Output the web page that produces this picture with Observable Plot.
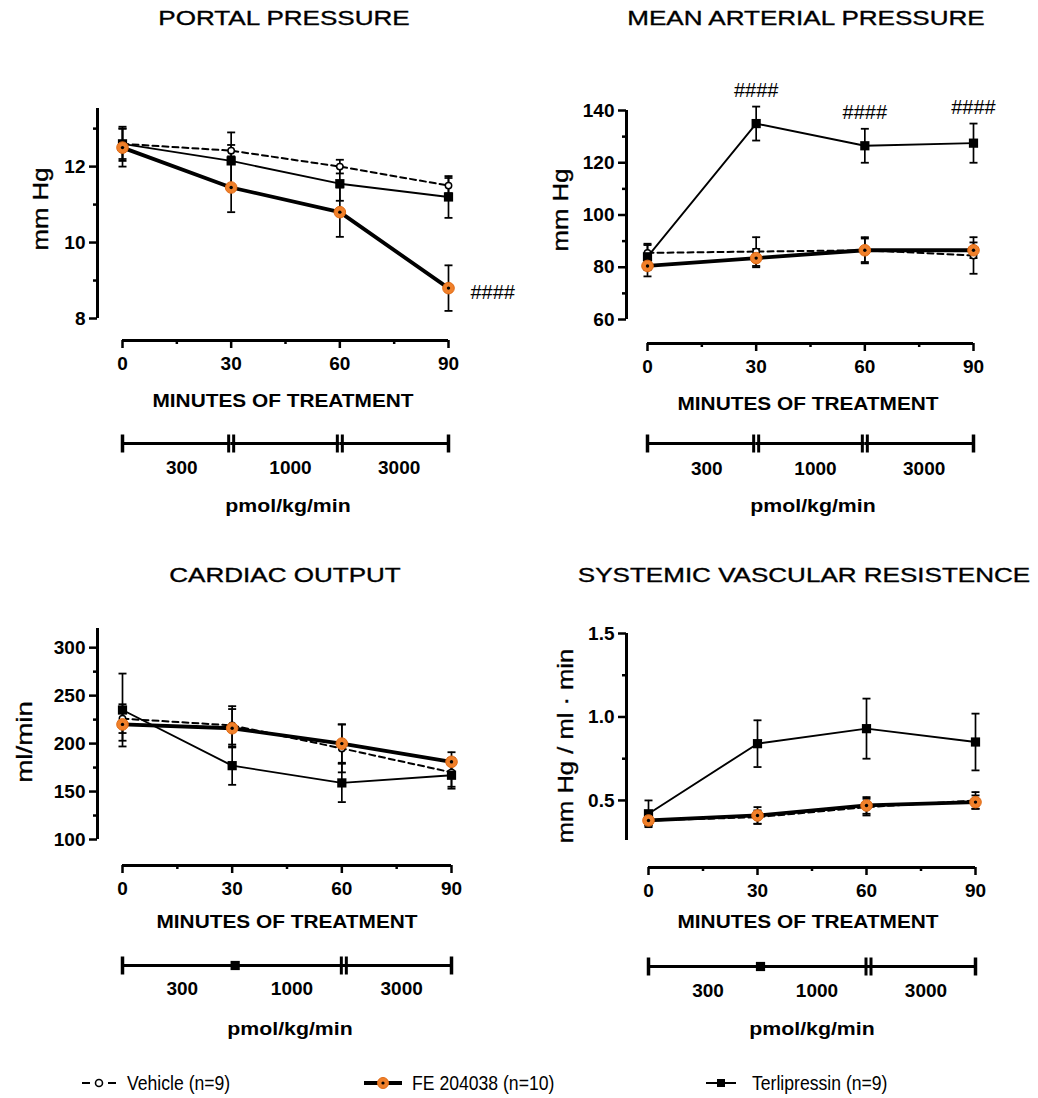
<!DOCTYPE html>
<html><head><meta charset="utf-8">
<script src="https://cdn.jsdelivr.net/npm/d3@7"></script>
<script src="https://cdn.jsdelivr.net/npm/@observablehq/plot@0.6"></script>
<style>
body{margin:0;background:#fff;}
#root{position:relative;width:1038px;height:1098px;overflow:hidden;font-family:"Liberation Sans",Arial,sans-serif;color:#000;background:#fff;}
.abs{position:absolute;white-space:nowrap;line-height:1;}
.heavy{-webkit-text-stroke:0.35px #000;}
.panel{position:absolute;}
.panel svg{overflow:visible;}
</style></head>
<body><div id="root"></div>
<script>
// ---------------- DATA ----------------
const time = [0, 30, 60, 90];

// Portal pressure (mm Hg)
const ppVehicle = [12.6, 12.42, 12.0, 11.5];
const ppVehicleErr = [0.4, 0.15, 0.18, 0.2];
const ppFE = [12.5, 11.45, 10.8, 8.8];
const ppFEErr = [0.5, 0.65, 0.65, 0.6];
const ppTerli = [12.6, 12.15, 11.55, 11.2];
const ppTerliErr = [0.45, 0.75, 0.45, 0.55];

// Mean arterial pressure (mm Hg)
const mapVehicle = [85.5, 86, 86.5, 84.5];
const mapVehicleErr = [3, 5.5, 5, 7];
const mapFE = [80.5, 83.5, 86.5, 86.5];
const mapFEErr = [4, 3.5, 4.5, 3];
const mapTerli = [84, 135, 126.5, 127.5];
const mapTerliErr = [5, 6.5, 6.5, 7.5];

// Cardiac output (ml/min)
const coVehicle = [226, 219, 195, 170];
const coVehicleErr = [15, 20, 25, 15];
const coFE = [220, 216, 200, 181];
const coFEErr = [17, 20, 20, 10];
const coTerli = [235, 177, 159, 167];
const coTerliErr = [38, 20, 20, 14];

// Systemic vascular resistance (mm Hg / ml · min)
const svrVehicle = [0.38, 0.40, 0.46, 0.50];
const svrVehicleErr = [0.03, 0.04, 0.05, 0.05];
const svrFE = [0.38, 0.41, 0.47, 0.49];
const svrFEErr = [0.03, 0.05, 0.05, 0.04];
const svrTerli = [0.42, 0.84, 0.93, 0.85];
const svrTerliErr = [0.08, 0.14, 0.18, 0.17];

// Significance marks (time points)
const ppSigTimes = [90];
const mapSigTimes = [30, 60, 90];
const sigLabel = "####";

// Dose schedule
const doseLabels = ["300", "1000", "3000"];
const doseStart = [0, 30, 60];
const doseEnd = [30, 60, 90];

// Ticks
const xTicks = [0, 30, 60, 90];
const xMinor = [15, 45, 75];
const ppTicks = [8, 10, 12], ppMinor = [9, 11, 13];
const mapTicks = [60, 80, 100, 120, 140], mapMinor = [70, 90, 110, 130];
const coTicks = [100, 150, 200, 250, 300], coMinor = [125, 175, 225, 275];
const svrTicks = [0.5, 1.0, 1.5], svrMinor = [0.75, 1.25];

const seriesNames = ["Vehicle (n=9)", "FE 204038 (n=10)", "Terlipressin (n=9)"];

// ---------------- HELPERS ----------------
const root = document.getElementById("root");
const ORANGE = "#f0802a";
const rows = (vals, errs) => time.map((t, i) => ({t, v: vals[i], lo: vals[i] - errs[i], hi: vals[i] + errs[i]}));
const capSym = {draw(ctx) { ctx.moveTo(-4, 0); ctx.lineTo(4, 0); }};
const vbarSym = {draw(ctx) { ctx.moveTo(0, -9); ctx.lineTo(0, 9); }};

function addText(txt, cx, cy, o = {}) {
  const el = document.createElement("div");
  el.className = "abs" + (o.heavy ? " heavy" : "");
  el.textContent = txt;
  el.style.fontSize = (o.size || 20.5) + "px";
  el.style.fontWeight = o.weight || "normal";
  root.appendChild(el);
  let s = o.sx || 1;
  if (o.width) s = o.width / el.offsetWidth;
  el.style.left = cx + "px";
  el.style.top = cy + "px";
  el.style.transform = `translate(-50%,-50%) rotate(${o.rotate || 0}deg) scaleX(${s})`;
  return el;
}

function panel(c) {
  const H = c.height;
  const vehicle = rows(c.vehicle, c.vehicleErr);
  const fe = rows(c.fe, c.feErr);
  const terli = rows(c.terli, c.terliErr);
  const segs = doseLabels.map((d, i) => ({dose: d, x1: doseStart[i], x2: doseEnd[i], mid: (doseStart[i] + doseEnd[i]) / 2}));
  const yLo = c.yDomain[0];
  const doseDy = c.doseY - c.pLo;
  const marks = [];
  // axis lines
  marks.push(Plot.ruleX([xTicks[0]], {y1: c.yDomain[0], y2: c.yDomain[1], dx: c.yAxisX - c.x0, stroke: "black", strokeWidth: 3}));
  marks.push(Plot.ruleY([yLo], {x1: xTicks[0], x2: xTicks[xTicks.length - 1], dy: c.xAxisY - c.pLo, stroke: "black", strokeWidth: 3}));
  marks.push(Plot.axisY({ticks: c.yTicks, tickSize: 8, tickPadding: 4, strokeWidth: 2.5, fontSize: 19, fontWeight: "bold", tickFormat: c.fmt, label: null}));
  marks.push(Plot.axisY({ticks: c.yMinor, tickSize: 4, strokeWidth: 2.5, tickFormat: () => "", label: null}));
  marks.push(Plot.axisX({ticks: xTicks, tickSize: 8, tickPadding: 8, strokeWidth: 2.5, fontSize: 19, fontWeight: "bold", label: null}));
  marks.push(Plot.axisX({ticks: xMinor, tickSize: 4, strokeWidth: 2.5, tickFormat: () => "", label: null}));

  // error bars
  for (const r of [vehicle, terli, fe]) {
    marks.push(Plot.ruleX(r, {x: "t", y1: "lo", y2: "hi", stroke: "black", strokeWidth: 1.7}));
    marks.push(Plot.dot(r, {x: "t", y: "hi", symbol: capSym, stroke: "black", strokeWidth: 1.8, fill: "none"}));
    marks.push(Plot.dot(r, {x: "t", y: "lo", symbol: capSym, stroke: "black", strokeWidth: 1.8, fill: "none"}));
  }
  // vehicle
  marks.push(Plot.line(vehicle, {x: "t", y: "v", stroke: "black", strokeWidth: 2, strokeDasharray: "6,4"}));
  marks.push(Plot.dot(vehicle, {x: "t", y: "v", r: 3.2, fill: "white", stroke: "black", strokeWidth: 1.5}));
  // terlipressin
  marks.push(Plot.line(terli, {x: "t", y: "v", stroke: "black", strokeWidth: 1.9}));
  marks.push(Plot.dot(terli, {x: "t", y: "v", symbol: "square", r: 5.2, fill: "black"}));
  // FE 204038
  marks.push(Plot.line(fe, {x: "t", y: "v", stroke: "black", strokeWidth: 3.8}));
  marks.push(Plot.dot(fe, {x: "t", y: "v", r: 5.8, fill: ORANGE, stroke: "#e06a14", strokeWidth: 1}));
  marks.push(Plot.dot(fe, {x: "t", y: "v", r: 1.7, fill: "black"}));

  // significance
  if (c.sig) marks.push(Plot.text(c.sig.rows, {x: "t", y: "y", text: () => sigLabel, fontSize: 20, fontWeight: "normal", textAnchor: c.sig.anchor, dx: c.sig.dx, dy: c.sig.dy}));

  // dose bar
  marks.push(Plot.ruleY(segs, {y: () => yLo, x1: "x1", x2: "x2", dy: doseDy, stroke: "black", strokeWidth: 3}));
  marks.push(Plot.dot([doseStart[0], doseEnd[doseEnd.length - 1]], {x: d => d, y: () => yLo, dy: doseDy, symbol: vbarSym, stroke: "black", strokeWidth: 3.5}));
  const breaks = c.doseBreaks, squares = c.doseSquares;
  for (const dx of [-2.5, 2.5]) marks.push(Plot.dot(breaks, {x: d => d, y: () => yLo, dy: doseDy, dx: dx + (c.breakDx || 0), symbol: vbarSym, stroke: "black", strokeWidth: 3}));
  if (squares.length) marks.push(Plot.dot(squares, {x: d => d, y: () => yLo, dy: doseDy, dx: 3, symbol: "square", r: 5.2, fill: "black"}));
  marks.push(Plot.text(segs, {x: "mid", y: () => yLo, dy: c.doseLabelY - c.pLo, dx: 5, text: "dose", fontSize: 19, fontWeight: "bold"}));

  const plot = Plot.plot({
    width: c.width, height: H,
    marginLeft: c.yAxisX - c.left, marginRight: 0, marginTop: 0,
    marginBottom: H - (c.xAxisY - c.top),
    x: {domain: [xTicks[0], xTicks[xTicks.length - 1]], range: [c.x0 - c.left, c.x90 - c.left]},
    y: {domain: c.yDomain, range: [c.pLo - c.top, c.pHi - c.top]},
    style: {fontFamily: "'Liberation Sans', Arial, sans-serif", fontSize: "19px", color: "black", background: "transparent", overflow: "visible"},
    marks
  });
  const wrap = document.createElement("div");
  wrap.className = "panel";
  wrap.style.left = c.left + "px";
  wrap.style.top = c.top + "px";
  wrap.appendChild(plot);
  root.appendChild(wrap);

  // texts
  addText(c.title, c.titleX, c.titleY, {size: 20.5, sx: 1.27, heavy: true});
  addText(c.ylabel, c.ylabelX, c.ylabelY, {size: 22, rotate: -90, width: c.ylabelLen, heavy: true});
  addText("MINUTES OF TREATMENT", c.minX, c.minY, {size: 18.6, weight: "bold", sx: 1.12});
  addText("pmol/kg/min", c.pmolX, c.pmolY, {size: 19, weight: "bold", sx: 1.12});
}

const sigRows = (times, vals, errs, useErr) => times.map(t => {
  const i = time.indexOf(t);
  return {t, y: useErr ? vals[i] + errs[i] : vals[i]};
});

panel({
  left: 0, top: 0, width: 519, height: 540,
  yAxisX: 97, x0: 122, x90: 448, yDomain: [8, 13.53], pLo: 318, pHi: 108, xAxisY: 340, doseY: 443, doseLabelY: 467,
  yTicks: ppTicks, yMinor: ppMinor, fmt: d3.format("d"),
  vehicle: ppVehicle, vehicleErr: ppVehicleErr, fe: ppFE, feErr: ppFEErr, terli: ppTerli, terliErr: ppTerliErr,
  sig: {rows: sigRows(ppSigTimes, ppFE, ppFEErr, false), anchor: "start", dx: 22, dy: 4},
  doseBreaks: [30, 60], doseSquares: [],
  title: "PORTAL PRESSURE", titleX: 284, titleY: 18,
  ylabel: "mm Hg", ylabelX: 41, ylabelY: 209, ylabelLen: 83,
  minX: 283, minY: 401, pmolX: 288, pmolY: 505
});

panel({
  left: 519, top: 0, width: 519, height: 540,
  yAxisX: 626, x0: 647, x90: 973, yDomain: [60, 140], pLo: 319, pHi: 110, xAxisY: 343, doseY: 443, doseLabelY: 468,
  yTicks: mapTicks, yMinor: mapMinor, fmt: d3.format("d"),
  vehicle: mapVehicle, vehicleErr: mapVehicleErr, fe: mapFE, feErr: mapFEErr, terli: mapTerli, terliErr: mapTerliErr,
  sig: {rows: sigRows(mapSigTimes, mapTerli, mapTerliErr, true), anchor: "middle", dx: 0, dy: -16},
  doseBreaks: [30, 60], doseSquares: [],
  title: "MEAN ARTERIAL PRESSURE", titleX: 806, titleY: 18,
  ylabel: "mm Hg", ylabelX: 561, ylabelY: 210, ylabelLen: 83,
  minX: 808, minY: 404, pmolX: 813, pmolY: 505
});

panel({
  left: 0, top: 550, width: 519, height: 500,
  yAxisX: 97, x0: 122, x90: 451, yDomain: [100, 320], pLo: 839, pHi: 628, xAxisY: 865, doseY: 965, doseLabelY: 988,
  yTicks: coTicks, yMinor: coMinor, fmt: d3.format("d"),
  vehicle: coVehicle, vehicleErr: coVehicleErr, fe: coFE, feErr: coFEErr, terli: coTerli, terliErr: coTerliErr,
  sig: null,
  doseBreaks: [60], doseSquares: [30], breakDx: 2,
  title: "CARDIAC OUTPUT", titleX: 285, titleY: 575,
  ylabel: "ml/min", ylabelX: 25, ylabelY: 742, ylabelLen: 82,
  minX: 287, minY: 922, pmolX: 290, pmolY: 1028
});

panel({
  left: 519, top: 550, width: 519, height: 500,
  yAxisX: 626, x0: 648, x90: 975, yDomain: [0.26, 1.5], pLo: 840, pHi: 633, xAxisY: 867, doseY: 966, doseLabelY: 990,
  yTicks: svrTicks, yMinor: svrMinor, fmt: d3.format(".1f"),
  vehicle: svrVehicle, vehicleErr: svrVehicleErr, fe: svrFE, feErr: svrFEErr, terli: svrTerli, terliErr: svrTerliErr,
  sig: null,
  doseBreaks: [60], doseSquares: [30], breakDx: 2,
  title: "SYSTEMIC VASCULAR RESISTENCE", titleX: 804, titleY: 575,
  ylabel: "mm Hg / ml · min", ylabelX: 566, ylabelY: 746, ylabelLen: 194,
  minX: 808, minY: 922, pmolX: 812, pmolY: 1028
});

// ---------------- LEGEND ----------------
const NS = "http://www.w3.org/2000/svg";
function swatch(kind) {
  const s = document.createElementNS(NS, "svg");
  s.setAttribute("width", 42); s.setAttribute("height", 20);
  const add = (tag, attrs) => { const e = document.createElementNS(NS, tag); for (const k in attrs) e.setAttribute(k, attrs[k]); s.appendChild(e); };
  if (kind === 0) {
    add("line", {x1: 2, x2: 10, y1: 10, y2: 10, stroke: "black", "stroke-width": 2});
    add("line", {x1: 28, x2: 36, y1: 10, y2: 10, stroke: "black", "stroke-width": 2});
    add("circle", {cx: 19, cy: 10, r: 3.5, fill: "white", stroke: "black", "stroke-width": 1.6});
  } else if (kind === 1) {
    add("line", {x1: 2, x2: 40, y1: 10, y2: 10, stroke: "black", "stroke-width": 4});
    add("circle", {cx: 21, cy: 10, r: 5.5, fill: ORANGE, stroke: "#e06a14", "stroke-width": 1});
    add("circle", {cx: 21, cy: 10, r: 1.6, fill: "black"});
  } else {
    add("line", {x1: 2, x2: 32, y1: 10, y2: 10, stroke: "black", "stroke-width": 2});
    add("rect", {x: 13, y: 6, width: 8, height: 8, fill: "black"});
  }
  return s;
}
const legendX = [80, 362, 704];
const legendTextX = [127, 412, 752];
seriesNames.forEach((name, i) => {
  const sw = swatch(i);
  sw.style.position = "absolute";
  sw.style.left = legendX[i] + "px";
  sw.style.top = (1083 - 10) + "px";
  root.appendChild(sw);
  const el = document.createElement("div");
  el.className = "abs";
  el.textContent = name;
  el.style.fontSize = "20px";
  el.style.left = legendTextX[i] + "px";
  el.style.top = "1083px";
  el.style.transformOrigin = "0 50%";
  el.style.transform = "translateY(-50%) scaleX(0.88)";
  root.appendChild(el);
});
</script></body></html>
